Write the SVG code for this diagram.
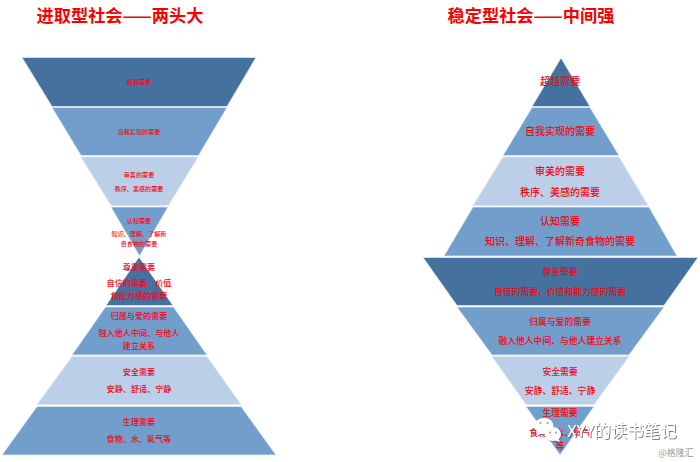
<svg xmlns="http://www.w3.org/2000/svg" width="700" height="462" viewBox="0 0 700 462">
<style>
text{font-family:"Noto Sans CJK SC","Liberation Sans",sans-serif;fill:#f5050f;text-anchor:middle;font-weight:500}
.title{font-size:17.200px;font-weight:700;fill:#fb0000}
.s{font-size:6.100px}.l{font-size:8.100px}.r{font-size:10px}.q{font-size:8.800px}
.d{fill:#44719e}.b{fill:#729ecb}.p{fill:#bbcfe8}
polygon{stroke:#dfe8f2;stroke-width:.8}
</style>
<defs>
<filter id="sh" x="-10%" y="-20%" width="120%" height="150%"><feDropShadow dx="1" dy="1" stdDeviation=".7" flood-color="#555" flood-opacity=".75"/></filter>
</defs>
<rect width="700" height="462" fill="#fff"/>
<text class="title" x="120" y="22">进取型社会——两头大</text>
<text class="title" x="531" y="22">稳定型社会——中间强</text>
<g id="left-1"><polygon class="d" points="22,57.500 256,57.500 227,106.500 52,106.500"/><text class="s" x="139" y="84">超越需要</text></g>
<g id="left-2"><polygon class="b" points="52,107.500 227,107.500 198.500,155.500 81,155.500"/><text class="s" x="139" y="134">自我实现的需要</text></g>
<g id="left-3"><polygon class="p" points="81,157 198,157 168.500,205.500 111,205.500"/><text class="s" x="139" y="177">审美的需要</text><text class="s" x="139" y="191">秩序、美感的需要</text></g>
<g id="left-4"><polygon class="b" points="111,207 168,207 139.500,256"/><text class="s" x="139" y="223">认知需要</text><text class="s" x="139" y="236">知识、理解、了解新</text><text class="s" x="139" y="246">奇食物的需要</text></g>
<g id="left-5"><polygon class="d" points="139,257 173,305.500 106,305.500"/><text class="l" x="139" y="270">尊重需要</text><text class="l" x="139" y="286">自信的需要、价值</text><text class="l" x="139" y="299">和能力感的需要</text></g>
<g id="left-6"><polygon class="b" points="105.500,307 173.500,307 207,355 72,355"/><text class="l" x="139" y="319">归属与爱的需要</text><text class="l" x="139" y="336">融入他人中间、与他人</text><text class="l" x="139" y="349">建立关系</text></g>
<g id="left-7"><polygon class="p" points="72,356.500 207,356.500 241,404.500 37,404.500"/><text class="l" x="139" y="375">安全需要</text><text class="l" x="139" y="392">安静、舒适、宁静</text></g>
<g id="left-8"><polygon class="b" points="37,406.500 241,406.500 276,455 2,455"/><text class="l" x="139" y="425">生理需要</text><text class="l" x="139" y="442">食物、水、氧气等</text></g>
<g id="right-1"><polygon class="d" points="561,58 590,106.500 532,106.500"/><text class="r" x="560" y="85">超越需要</text></g>
<g id="right-2"><polygon class="b" points="532,107.500 590,107.500 619,155.500 503,155.500"/><text class="r" x="560" y="135">自我实现的需要</text></g>
<g id="right-3"><polygon class="p" points="503,157 619,157 648,205.500 473,205.500"/><text class="r" x="560" y="175">审美的需要</text><text class="r" x="560" y="196">秩序、美感的需要</text></g>
<g id="right-4"><polygon class="b" points="473,207 649,207 677,256 444,256"/><text class="r" x="560" y="225">认知需要</text><text class="r" x="560" y="245">知识、理解、了解新奇食物的需要</text></g>
<g id="right-5"><polygon class="d" points="423,257.500 698,257.500 664,305.500 457,305.500"/><text class="q" x="560" y="275">尊重需要</text><text class="q" x="560" y="295">自信的需要、价值和能力感的需要</text></g>
<g id="right-6"><polygon class="b" points="457,307 664,307 629,355 492,355"/><text class="q" x="560" y="325">归属与爱的需要</text><text class="q" x="560" y="344">融入他人中间、与他人建立关系</text></g>
<g id="right-7"><polygon class="p" points="492,356.500 629,356.500 594,404.500 526,404.500"/><text class="q" x="560" y="375">安全需要</text><text class="q" x="560" y="394">安静、舒适、宁静</text></g>
<g id="right-8"><polygon class="b" points="526,406.500 594,406.500 560,455"/><text class="q" x="560" y="416">生理需要</text><text class="q" x="560" y="436">食物、水、氧气</text><text class="q" x="560" y="449">等</text></g>
<g id="watermark">
<g filter="url(#sh)" fill="#fff"><ellipse cx="544" cy="426" rx="9.500" ry="8"/><path d="M538 431l-1.500 5 6-3z"/><ellipse cx="553" cy="434" rx="8" ry="7"/><path d="M558 438l2 4-6-2z"/></g>
<g fill="#8b9099"><circle cx="540.500" cy="423" r="1"/><circle cx="547.500" cy="423" r="1"/><circle cx="550" cy="432.500" r=".9"/><circle cx="556" cy="432.500" r=".9"/></g>
<text filter="url(#sh)" x="622" y="437" style="font-size:16.500px;font-weight:400;fill:#fff">XYY的读书笔记</text>
<text x="676" y="456" style="font-size:9px;font-weight:400;fill:#9a9a9a">@格隆汇</text>
</g>
</svg>
